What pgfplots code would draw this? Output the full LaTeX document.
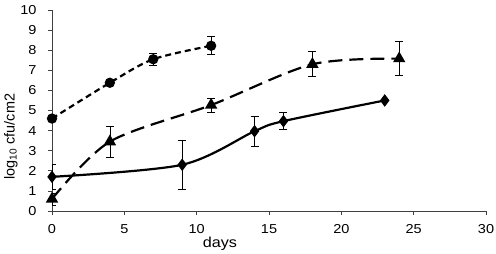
\documentclass[border=0pt]{standalone}
\usepackage{fontspec}
\setmainfont{Liberation Sans}[FakeStretch=1.12]
\newfontfamily\yfont{Liberation Sans}
\usepackage{pgfplots}
\pgfplotsset{compat=1.18}
\newcommand\f{\fontsize{13}{15}\selectfont}
\newcommand\lf{\fontsize{14.5}{16}\selectfont}
\begin{document}
\begin{tikzpicture}
\begin{axis}[
  scale only axis, width=434bp, height=201bp,
  xmin=0, xmax=30, ymin=0, ymax=10,
  xtick={0,5,...,30}, ytick={0,1,...,10},
  axis x line*=bottom, axis y line*=left,
  axis line style={black!75, line width=0.7pt},
  tick style={black!75, line width=0.7pt},
  tick align=outside, major tick length=4bp,
  /pgf/number format/assume math mode=true,
  tick label style={font=\f},
  xticklabel style={yshift=-6bp},
  yticklabel style={xshift=-8bp},
  xlabel={days}, ylabel={log\textsubscript{10} cfu/cm2},
  xlabel style={font=\lf, at={(ticklabel cs:0.387)}, yshift=3bp},
  ylabel style={font=\yfont\lf, at={(ticklabel cs:0.37)}, yshift=-4bp},
  error bars/error bar style={solid, line width=0.7pt, black},
  error bars/error mark options={rotate=90, mark size=4bp, line width=0.7pt, solid, black},
]
% circles, short dashes
\addplot[black, line width=2.2pt, smooth, dash pattern=on 6bp off 4bp, mark=*, mark size=4bp, mark options={solid, fill=black},
  error bars/.cd, y dir=both, y explicit]
  table[x=x, y=y, y error=e] {
x y e
0 4.6 0
4 6.38 0
7 7.55 0.3
11 8.22 0.45
};
% triangles, long dashes
\addplot[black, line width=2.2pt, smooth, dash pattern=on 14bp off 7bp, mark=triangle*, mark size=5bp, mark options={solid, fill=black},
  error bars/.cd, y dir=both, y explicit]
  table[x=x, y=y, y error=e] {
x y e
0 0.6 0.3
4 3.45 0.78
11 5.27 0.35
18 7.3 0.62
24 7.58 0.85
};
% diamonds, solid
\addplot[black, line width=2.2pt, smooth, solid, mark=diamond*, mark size=4.5bp, mark options={solid, fill=black},
  error bars/.cd, y dir=both, y explicit]
  table[x=x, y=y, y error=e] {
x y e
0 1.7 0.6
9 2.3 1.2
14 3.97 0.76
16 4.47 0.42
23 5.5 0
};
\end{axis}
\pgfresetboundingbox
\path (-52bp,-43bp) rectangle (444bp,211bp);
\end{tikzpicture}
\end{document}
